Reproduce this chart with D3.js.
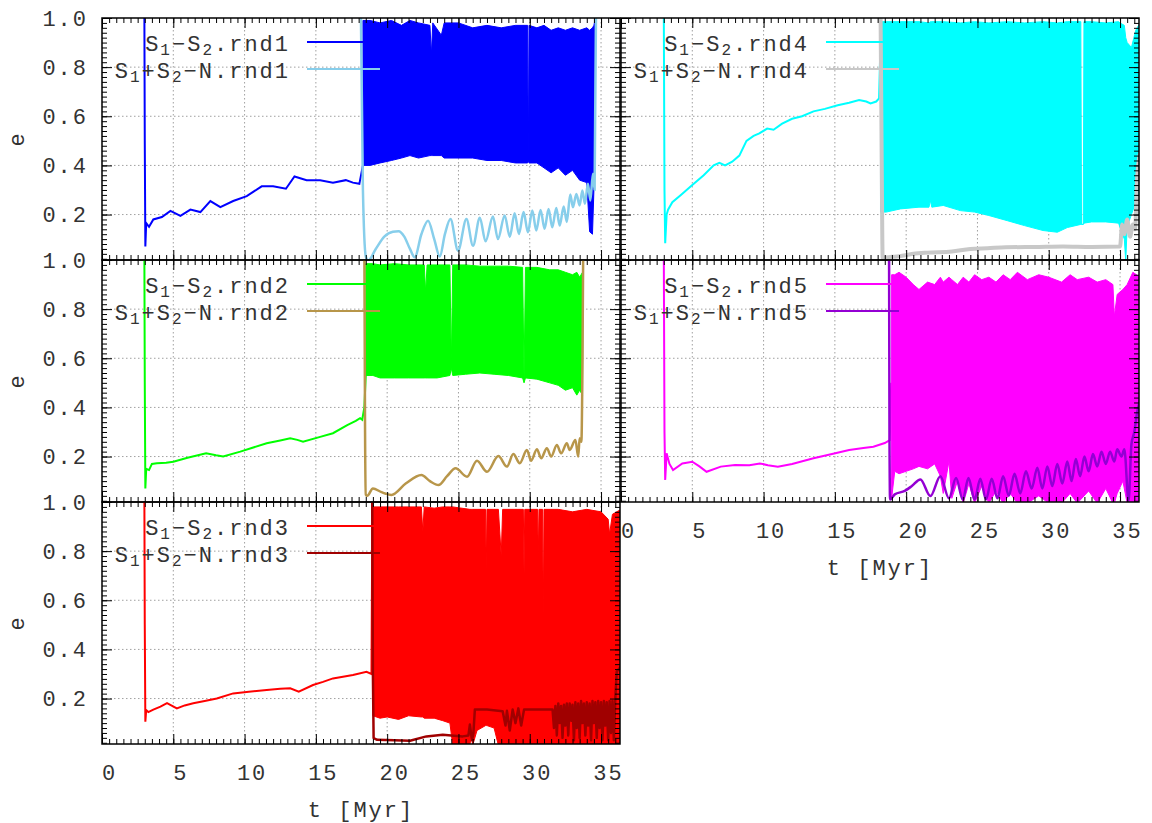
<!DOCTYPE html>
<html>
<head>
<meta charset="utf-8">
<script src="https://cdn.jsdelivr.net/npm/d3@7/dist/d3.min.js"></script>
<style>
  body { margin: 0; background: #fff; }
  svg text { font-family: "Liberation Mono", "DejaVu Sans Mono", monospace; fill: #333; letter-spacing: 2px; }
</style>
</head>
<body>
<script>
    // runs and colours
    var runs = ["rnd1", "rnd2", "rnd3", "rnd4", "rnd5"];
    var s12Colors = ["#0000ff", "#00ff00", "#ff0000", "#00ffff", "#ff00ff"];
    var nColors = ["#87ceeb", "#b8964a", "#a00000", "#c8c8c8", "#9400d3"];

    var xTicks = [0, 5, 10, 15, 20, 25, 30, 35];
    var yTicks = [0.2, 0.4, 0.6, 0.8, 1.0];

    // S1-S2 before the dense oscillation: [t, e]
    var s12Rnd1 = [[2.97,1.05],[3.0,0.5],[3.04,0.07],[3.1,0.165],[3.3,0.15],[3.6,0.18],[4.2,0.19],[4.8,0.215],[5.5,0.195],[6.2,0.22],[6.9,0.21],[7.6,0.255],[8.3,0.23],[9.2,0.255],[10.15,0.275],[11.2,0.315],[12.0,0.315],[12.9,0.305],[13.5,0.355],[14.35,0.34],[15.3,0.34],[16.2,0.33],[17.1,0.34],[17.6,0.33],[18.05,0.325],[18.3,0.4]];
    var s12Rnd2 = [[2.97,1.05],[3.0,0.5],[3.04,0.07],[3.1,0.15],[3.3,0.145],[3.5,0.17],[3.85,0.173],[4.5,0.175],[5.0,0.179],[6.0,0.195],[7.3,0.213],[8.0,0.205],[8.5,0.2],[9.7,0.22],[10.5,0.235],[11.55,0.254],[12.5,0.265],[13.2,0.274],[13.7,0.268],[14.1,0.26],[15.3,0.28],[16.2,0.295],[17.2,0.328],[17.8,0.345],[18.1,0.356],[18.25,0.35],[18.4,0.4],[18.5,0.53]];
    var s12Rnd3 = [[2.97,1.05],[3.0,0.5],[3.04,0.106],[3.1,0.153],[3.25,0.145],[3.6,0.155],[4.1,0.167],[4.56,0.181],[5.25,0.16],[5.8,0.172],[6.4,0.181],[7.2,0.19],[8.05,0.2],[9.2,0.221],[10.3,0.228],[11.55,0.235],[12.5,0.24],[13.2,0.242],[13.8,0.228],[14.8,0.255],[15.5,0.268],[16.2,0.282],[17.6,0.296],[18.55,0.309],[18.9,0.3],[18.97,1.05]];
    var s12Rnd4 = [[3.0,1.05],[3.05,0.3],[3.1,0.083],[3.2,0.2],[3.3,0.22],[3.6,0.25],[4.2,0.28],[5.0,0.32],[5.8,0.36],[6.5,0.4],[6.9,0.41],[7.3,0.4],[7.8,0.415],[8.3,0.44],[8.8,0.5],[9.3,0.52],[9.7,0.53],[10.25,0.55],[10.7,0.545],[11.3,0.57],[12.0,0.59],[12.7,0.6],[13.5,0.62],[14.3,0.63],[15.2,0.645],[16.0,0.655],[16.7,0.666],[17.2,0.66],[17.5,0.652],[17.9,0.66],[18.1,0.673],[18.2,0.9]];
    var s12Rnd5 = [[3.0,1.05],[3.05,0.3],[3.1,0.105],[3.2,0.213],[3.4,0.17],[3.65,0.145],[4.3,0.172],[5.0,0.179],[5.5,0.16],[6.0,0.138],[7.0,0.159],[8.0,0.166],[9.0,0.165],[9.74,0.172],[10.3,0.165],[11.0,0.159],[12.0,0.17],[13.5,0.193],[14.8,0.21],[16.0,0.227],[17.0,0.235],[17.7,0.24],[18.5,0.255],[18.85,0.267],[18.95,0.5]];

    // S1-S2 dense oscillation envelope: [t, lower, upper]
    var bandRnd1 = [[18.3,0.40,0.99],[18.8,0.40,0.99],[19.5,0.41,0.98],[20.3,0.42,0.99],[21.0,0.43,0.97],[21.6,0.44,0.99],[22.2,0.43,0.98],[23.0,0.44,0.97],[23.1,0.44,0.85],[23.2,0.44,0.98],[23.8,0.44,0.93],[24.0,0.43,0.98],[25.0,0.43,0.98],[26.0,0.43,0.96],[27.0,0.42,0.97],[28.0,0.42,0.96],[29.0,0.41,0.97],[29.85,0.41,0.97],[29.9,0.42,0.42],[29.95,0.41,0.97],[30.5,0.41,0.96],[31.0,0.39,0.97],[31.5,0.37,0.95],[32.0,0.39,0.96],[32.5,0.36,0.95],[33.0,0.38,0.96],[33.5,0.34,0.95],[34.0,0.33,0.96],[34.2,0.13,0.95],[34.4,0.12,0.96],[34.5,0.3,0.97],[34.6,1.0,1.0]];
    var bandRnd2 = [[18.5,0.53,0.985],[19.0,0.53,0.985],[19.5,0.52,0.98],[20.5,0.52,0.985],[21.5,0.52,0.98],[22.6,0.52,0.98],[22.7,0.52,0.87],[22.8,0.52,0.98],[23.5,0.52,0.98],[24.4,0.53,0.98],[24.5,0.56,0.58],[24.6,0.53,0.98],[25.5,0.535,0.98],[26.5,0.54,0.975],[27.5,0.535,0.975],[28.5,0.53,0.975],[29.5,0.52,0.97],[29.6,0.5,0.52],[29.7,0.52,0.97],[30.5,0.515,0.97],[31.4,0.50,0.96],[32.0,0.49,0.96],[32.5,0.47,0.95],[33.0,0.48,0.94],[33.3,0.45,0.95],[33.5,0.47,0.93],[33.7,0.45,0.95],[33.75,1.0,1.0]];
    var bandRnd3 = [[19.0,0.13,0.98],[19.5,0.12,0.98],[20.0,0.125,0.98],[20.8,0.115,0.98],[21.5,0.13,0.98],[22.4,0.125,0.98],[22.5,0.125,0.88],[22.6,0.12,0.98],[23.3,0.12,0.975],[23.9,0.11,0.98],[24.4,0.1,0.98],[24.6,0.01,0.98],[25.8,0.01,0.97],[25.9,0.05,0.97],[26.0,0.01,0.97],[26.3,0.07,0.97],[26.9,0.09,0.97],[26.95,0.09,0.72],[27.0,0.09,0.97],[27.5,0.08,0.97],[27.8,0.01,0.97],[28.0,0.01,0.78],[28.1,0.01,0.97],[29.55,0.01,0.97],[29.6,0.01,0.71],[29.65,0.01,0.97],[30.55,0.01,0.97],[30.6,0.01,0.78],[30.65,0.01,0.97],[30.9,0.01,0.97],[30.95,0.01,0.53],[31.0,0.01,0.97],[32.0,0.01,0.97],[33.0,0.01,0.96],[34.0,0.01,0.97],[35.0,0.01,0.96],[35.5,0.01,0.93],[35.6,0.01,0.87],[35.8,0.01,0.95],[36.4,0.01,0.97]];
    var bandRnd4 = [[18.2,0.21,0.985],[18.6,0.21,0.985],[19.6,0.223,0.985],[20.9,0.23,0.985],[21.6,0.23,0.98],[21.7,0.257,0.985],[21.8,0.23,0.985],[22.6,0.237,0.985],[23.8,0.216,0.98],[24.8,0.21,0.985],[25.8,0.196,0.98],[27.1,0.175,0.985],[28.3,0.155,0.98],[29.6,0.135,0.985],[30.6,0.128,0.98],[31.3,0.147,0.985],[32.25,0.16,0.985],[32.3,0.16,0.16],[32.42,0.16,0.16],[32.47,0.165,0.985],[33.0,0.17,0.985],[34.0,0.17,0.98],[34.9,0.165,0.985],[35.0,0.147,0.98],[35.3,0.1,0.97],[35.4,0.01,0.92],[35.5,0.15,0.9],[35.8,0.2,0.88],[36.1,0.25,0.95],[36.4,0.3,0.98]];
    var bandRnd5 = [[18.98,0.03,0.94],[19.2,0.14,0.94],[19.5,0.13,0.95],[20.0,0.14,0.93],[20.5,0.15,0.9],[20.9,0.16,0.88],[21.5,0.15,0.91],[22.0,0.17,0.9],[22.4,0.12,0.93],[22.6,0.05,0.91],[23.0,0.18,0.93],[23.2,0.03,0.92],[23.6,0.1,0.9],[24.0,0.01,0.93],[24.4,0.09,0.91],[24.8,0.01,0.94],[25.3,0.08,0.92],[25.8,0.01,0.93],[26.3,0.06,0.91],[26.8,0.01,0.94],[27.3,0.05,0.92],[27.8,0.01,0.95],[28.5,0.01,0.92],[29.3,0.04,0.94],[30.0,0.01,0.93],[30.9,0.01,0.91],[31.5,0.05,0.94],[32.0,0.01,0.92],[32.8,0.06,0.93],[33.4,0.01,0.91],[34.0,0.07,0.92],[34.5,0.01,0.9],[34.6,0.01,0.77],[34.8,0.05,0.86],[35.2,0.1,0.88],[35.5,0.01,0.9],[35.9,0.01,0.95],[36.4,0.01,0.93]];

    // S1+S2-N: [t, e]
    var nRnd1 = [[18.15,1.05],[18.3,0.3],[18.5,0.03],[18.66,0.012],[19.2,0.06],[19.8,0.11],[20.4,0.13],[20.8,0.132],[21.2,0.11],[21.6,0.06],[21.93,0.026],[22.4,0.12],[22.87,0.175],[23.3,0.1],[23.69,0.029],[24.05,0.12],[24.44,0.182],[24.97,0.053],[25.56,0.182],[26.02,0.073],[26.5,0.187],[26.9,0.091],[27.42,0.192],[27.77,0.1],[28.24,0.196],[28.6,0.11],[28.94,0.205],[29.24,0.121],[29.57,0.21],[29.87,0.128],[30.18,0.216],[30.46,0.135],[30.76,0.219],[31.04,0.142],[31.32,0.223],[31.58,0.148],[31.86,0.227],[32.1,0.155],[32.38,0.233],[32.6,0.17],[32.84,0.282],[33.03,0.23],[33.27,0.284],[33.5,0.237],[33.69,0.298],[33.87,0.244],[34.08,0.325],[34.25,0.257],[34.43,0.366],[34.55,0.3],[34.65,1.05]];
    var nRnd2 = [[18.4,1.05],[18.45,0.3],[18.5,0.045],[18.6,0.04],[19.0,0.07],[19.6,0.055],[20.3,0.044],[21.3,0.09],[22.4,0.125],[23.0,0.1],[23.6,0.084],[24.2,0.12],[24.8,0.152],[25.6,0.118],[26.3,0.183],[27.0,0.138],[27.8,0.202],[28.4,0.159],[28.85,0.21],[29.3,0.173],[29.8,0.227],[30.1,0.183],[30.5,0.23],[30.8,0.193],[31.2,0.234],[31.5,0.2],[31.9,0.247],[32.2,0.213],[32.6,0.254],[32.8,0.227],[33.2,0.267],[33.4,0.2],[33.5,0.274],[33.62,0.26],[33.75,1.05]];
    var nRnd3 = [[18.95,1.05],[19.0,0.3],[19.05,0.039],[19.3,0.032],[20.5,0.03],[21.6,0.028],[22.75,0.046],[23.9,0.053],[25.3,0.046],[25.7,0.05],[25.8,0.094],[25.95,0.03],[26.05,0.06],[26.15,0.155],[27.0,0.155],[28.1,0.148],[28.3,0.09],[28.4,0.15],[28.6,0.07],[28.8,0.155],[29.0,0.1],[29.2,0.16],[29.4,0.09],[29.6,0.155],[30.5,0.155],[31.6,0.155],[31.7,0.08],[31.8,0.17],[31.9,0.05],[32.0,0.18],[32.1,0.1],[32.2,0.17],[32.3,0.04],[32.4,0.175],[32.5,0.09],[32.6,0.18],[32.7,0.05],[32.8,0.18],[32.9,0.11],[33.0,0.175],[33.1,0.03],[33.2,0.185],[33.3,0.08],[33.4,0.18],[33.5,0.04],[33.6,0.19],[33.7,0.1],[33.8,0.18],[33.9,0.05],[34.0,0.185],[34.1,0.09],[34.2,0.18],[34.3,0.03],[34.4,0.19],[34.5,0.1],[34.6,0.185],[34.7,0.04],[34.8,0.19],[34.9,0.08],[35.0,0.185],[35.1,0.03],[35.2,0.19],[35.3,0.09],[35.4,0.185],[35.5,0.03],[35.6,0.19],[35.7,0.06],[35.8,0.19],[35.9,0.03],[36.0,0.2],[36.1,0.31],[36.4,0.33]];
    var nRnd4 = [[18.2,1.05],[18.3,0.3],[18.35,0.025],[19.0,0.028],[19.5,0.03],[20.5,0.04],[21.5,0.045],[23.2,0.05],[24.5,0.06],[25.7,0.063],[27.0,0.067],[29.0,0.068],[31.0,0.07],[33.0,0.068],[35.0,0.07],[35.15,0.16],[35.3,0.12],[35.5,0.18],[35.7,0.11],[35.9,0.16],[36.05,0.14],[36.2,0.35],[36.4,0.45]];
    var nRnd5 = [[18.8,1.05],[18.83,0.3],[18.87,0.025],[19.2,0.046],[19.9,0.06],[20.4,0.08],[21.0,0.107],[21.7,0.039],[22.4,0.12],[23.0,0.03],[23.5,0.113],[23.97,0.025],[24.37,0.113],[24.8,0.025],[25.2,0.11],[25.6,0.025],[26.0,0.11],[26.4,0.03],[26.8,0.12],[27.2,0.04],[27.6,0.13],[28.0,0.05],[28.4,0.14],[28.8,0.07],[29.2,0.154],[29.55,0.07],[29.9,0.16],[30.25,0.08],[30.6,0.17],[30.95,0.09],[31.3,0.18],[31.6,0.1],[31.9,0.19],[32.2,0.12],[32.5,0.2],[32.8,0.14],[33.1,0.21],[33.4,0.16],[33.7,0.22],[34.0,0.17],[34.3,0.22],[34.6,0.18],[34.8,0.23],[35.1,0.2],[35.3,0.23],[35.6,0.02],[35.8,0.25],[36.0,0.3],[36.2,0.38],[36.4,0.43]];

    var panels = [
        {col: 0, row: 0, s12: s12Rnd1, band: bandRnd1, n: nRnd1, nWidth: 2.5, nCurve: d3.curveMonotoneX},
        {col: 0, row: 1, s12: s12Rnd2, band: bandRnd2, n: nRnd2, nWidth: 2.5, nCurve: d3.curveMonotoneX},
        {col: 0, row: 2, s12: s12Rnd3, band: bandRnd3, n: nRnd3, nWidth: 2.5, nCurve: d3.curveLinear, xLabels: true},
        {col: 1, row: 0, s12: s12Rnd4, band: bandRnd4, n: nRnd4, nWidth: 4, nCurve: d3.curveMonotoneX},
        {col: 1, row: 1, s12: s12Rnd5, band: bandRnd5, n: nRnd5, nWidth: 2.5, nCurve: d3.curveMonotoneX, xLabels: true}
    ];

    var cols = [102, 621],
        rows = [18, 260, 502],
        panelW = 518,
        panelH = 242,
        major = 10,
        minor = 5;

    var x = d3.scaleLinear().domain([0, 36.33]).range([0, panelW]);
    var y = d3.scaleLinear().domain([0.015, 1]).range([panelH, 0]);

    var xMinor = d3.range(0, 36.1, 0.5);
    var yMinor = d3.range(1, 50).map(function (i) { return i * 0.02; });

    var s12Line = d3.line()
        .x(function (d) { return x(d[0]); })
        .y(function (d) { return y(d[1]); });
    var bandArea = d3.area()
        .x(function (d) { return x(d[0]); })
        .y0(function (d) { return y(d[1]); })
        .y1(function (d) { return y(d[2]); });

    var svg = d3.select("body")
        .append("svg")
        .attr("width", 1152)
        .attr("height", 823);

    function noDomain(sel) { sel.select(".domain").remove(); }

    panels.forEach(function (p, i) {
        var g = svg.append("g")
            .attr("transform", "translate(" + cols[p.col] + "," + rows[p.row] + ")");

        g.append("clipPath").attr("id", "clip" + i)
            .append("rect").attr("width", panelW).attr("height", panelH);

        // dotted grid
        var grid = g.append("g")
            .attr("stroke", "#a0a0a0")
            .attr("stroke-width", 1)
            .attr("stroke-dasharray", "1.5,2.5");
        grid.selectAll(".gx").data(xTicks.slice(1)).enter().append("line")
            .attr("x1", function (d) { return x(d); })
            .attr("x2", function (d) { return x(d); })
            .attr("y1", 0).attr("y2", panelH);
        grid.selectAll(".gy").data(yTicks.slice(0, 4)).enter().append("line")
            .attr("x1", 0).attr("x2", panelW)
            .attr("y1", function (d) { return y(d); })
            .attr("y2", function (d) { return y(d); });

        var nLine = d3.line()
            .curve(p.nCurve)
            .x(function (d) { return x(d[0]); })
            .y(function (d) { return y(d[1]); });

        var plot = g.append("g").attr("clip-path", "url(#clip" + i + ")");
        plot.append("path").datum(p.s12)
            .attr("d", s12Line)
            .attr("fill", "none")
            .attr("stroke", s12Colors[i])
            .attr("stroke-width", 2);
        plot.append("path").datum(p.band)
            .attr("d", bandArea)
            .attr("fill", s12Colors[i])
            .attr("stroke", s12Colors[i])
            .attr("stroke-width", 1);
        plot.append("path").datum(p.n)
            .attr("d", nLine)
            .attr("fill", "none")
            .attr("stroke", nColors[i])
            .attr("stroke-width", p.nWidth)
            .attr("stroke-linejoin", "round");

        // border
        g.append("rect")
            .attr("width", panelW).attr("height", panelH)
            .attr("fill", "none")
            .attr("stroke", "#000")
            .attr("stroke-width", 1.5);

        // ticks, all pointing inward
        g.append("g").call(d3.axisLeft(y).tickValues(yTicks).tickSize(-major).tickPadding(14)
            .tickFormat(p.col === 0 ? d3.format(".1f") : "")).call(noDomain);
        g.append("g").call(d3.axisLeft(y).tickValues(yMinor).tickSize(-minor).tickFormat("")).call(noDomain);
        g.append("g").attr("transform", "translate(" + panelW + ",0)")
            .call(d3.axisRight(y).tickValues(yTicks).tickSize(-major).tickFormat("")).call(noDomain);
        g.append("g").attr("transform", "translate(" + panelW + ",0)")
            .call(d3.axisRight(y).tickValues(yMinor).tickSize(-minor).tickFormat("")).call(noDomain);
        g.append("g").call(d3.axisTop(x).tickValues(xTicks).tickSize(-major).tickFormat("")).call(noDomain);
        g.append("g").call(d3.axisTop(x).tickValues(xMinor).tickSize(-minor).tickFormat("")).call(noDomain);
        g.append("g").attr("transform", "translate(0," + panelH + ")")
            .call(d3.axisBottom(x).tickValues(xTicks).tickSize(-major).tickPadding(20)
                .tickFormat(p.xLabels ? d3.format("d") : "")).call(noDomain)
            .selectAll("text").attr("dx", 7);
        g.append("g").attr("transform", "translate(0," + panelH + ")")
            .call(d3.axisBottom(x).tickValues(xMinor).tickSize(-minor).tickFormat("")).call(noDomain);

        g.selectAll(".tick text").style("font-size", "22px");

        if (p.col === 0) {
            g.append("text")
                .attr("transform", "translate(" + (24 - cols[0]) + "," + (panelH / 2) + ") rotate(-90)")
                .attr("text-anchor", "middle")
                .style("font-size", "22px")
                .text("e");
        }
        if (p.xLabels) {
            g.append("text")
                .attr("x", panelW / 2)
                .attr("y", panelH + 73)
                .attr("text-anchor", "middle")
                .style("font-size", "22px")
                .text("t [Myr]");
        }

        // key
        var entries = [
            {color: s12Colors[i], parts: ["S", "1", "\u2212S", "2", "." + runs[i]]},
            {color: nColors[i], parts: ["S", "1", "+S", "2", "\u2212N." + runs[i]]}
        ];
        entries.forEach(function (e, k) {
            var ly = 24 + k * 27;
            var t = g.append("text")
                .attr("x", 188)
                .attr("y", ly + 8.5)
                .attr("text-anchor", "end")
                .style("font-size", "22px");
            e.parts.forEach(function (s, j) {
                var sub = j % 2 === 1;
                t.append("tspan")
                    .attr("dy", j === 0 ? 0 : (sub ? 4 : -4))
                    .style("font-size", sub ? "16px" : "22px")
                    .text(s);
            });
            g.append("line")
                .attr("x1", 205).attr("x2", 278)
                .attr("y1", ly).attr("y2", ly)
                .attr("stroke", e.color)
                .attr("stroke-width", 2);
        });
    });
</script>
</body>
</html>
